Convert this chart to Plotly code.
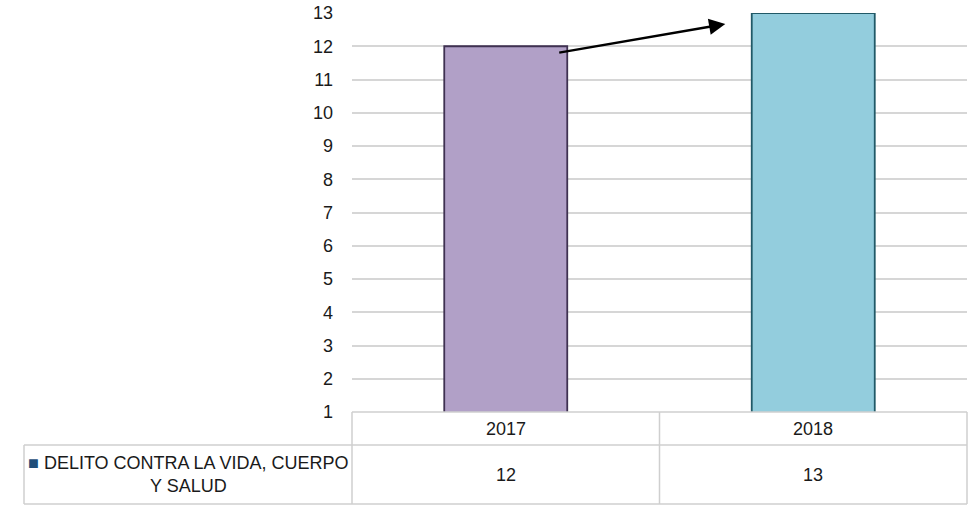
import plotly.graph_objects as go

# data
years = ["2017", "2018"]
values = [12, 13]
bar_colors = ["#b1a0c7", "#93cddd"]
bar_lines = ["#3f3151", "#215967"]
series_name = "DELITO CONTRA LA VIDA, CUERPO<br>Y SALUD"
y_ticks = list(range(1, 14))

fig = go.Figure()
fig.add_trace(go.Bar(
    x=years, y=values, width=0.4,
    marker=dict(color=bar_colors, line=dict(color=bar_lines, width=1.8)),
    showlegend=False,
))

font = dict(family="Liberation Sans, Arial", size=18, color="#1a1a1a")
grid = "#d6d6d6"

fig.update_layout(
    width=975, height=514,
    margin=dict(l=352, r=8, t=13, b=102),
    plot_bgcolor="white", paper_bgcolor="white",
    font=font,
    xaxis=dict(type="category", range=[-0.5, 1.5], showticklabels=False,
               showgrid=False, zeroline=False, showline=False, fixedrange=True,
               automargin=False),
    yaxis=dict(range=[1, 13], tickvals=y_ticks, showgrid=True, gridcolor=grid,
               gridwidth=2, zeroline=False, showline=False, ticks="",
               ticklabelstandoff=18, fixedrange=True, automargin=False),
)

# data table below the plot
tbl = dict(color="#cfcfcf", width=1.5)
h_head = -33 / 399
h_data = -92 / 399
x_lbl = -328 / 615
shapes = [
    dict(type="line", xref="paper", yref="paper", x0=0, x1=1, y0=0, y1=0, line=tbl),
    dict(type="line", xref="paper", yref="paper", x0=x_lbl, x1=1, y0=h_head, y1=h_head, line=tbl),
    dict(type="line", xref="paper", yref="paper", x0=x_lbl, x1=1, y0=h_data, y1=h_data, line=tbl),
    dict(type="line", xref="paper", yref="paper", x0=x_lbl, x1=x_lbl, y0=h_head, y1=h_data, line=tbl),
    dict(type="line", xref="paper", yref="paper", x0=0, x1=0, y0=0, y1=h_data, line=tbl),
    dict(type="line", xref="paper", yref="paper", x0=1, x1=1, y0=0, y1=h_data, line=tbl),
    dict(type="line", xref="x", yref="paper", x0=0.5, x1=0.5, y0=0, y1=h_data, line=tbl),
]
fig.update_layout(shapes=shapes)

for i, (yr, v) in enumerate(zip(years, values)):
    fig.add_annotation(x=i, xref="x", y=h_head / 2, yref="paper", text=yr,
                       xanchor="center", yanchor="middle", showarrow=False, font=font)
    fig.add_annotation(x=i, xref="x", y=(h_head + h_data) / 2, yref="paper",
                       text=str(v), xanchor="center", yanchor="middle",
                       showarrow=False, font=font)

fig.add_annotation(
    x=x_lbl / 2, xref="paper", y=(h_head + h_data) / 2, yref="paper",
    text="<span style='color:#1f4e79'>■</span> " + series_name,
    xanchor="center", yanchor="middle",
    showarrow=False, align="center", font=font,
)

# trend arrow between the bars
fig.add_annotation(
    x=0.714, y=12.67, xref="x", yref="y",
    ax=0.169, ay=11.8, axref="x", ayref="y",
    text="", showarrow=True, arrowhead=2, arrowsize=1.3, arrowwidth=2.5,
    arrowcolor="black",
)

fig.write_html("out.html", config={"displayModeBar": False},
               post_script="document.body.style.margin='0';")
